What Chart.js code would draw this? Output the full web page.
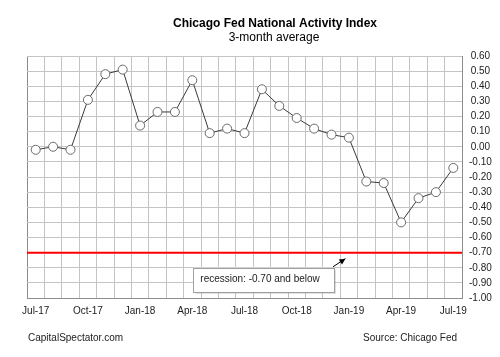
<!DOCTYPE html>
<html>
<head>
<meta charset="utf-8">
<script src="https://cdn.jsdelivr.net/npm/chart.js@4"></script>
<style>
  html, body { margin: 0; padding: 0; background: #fff; }
  #wrap { width: 500px; height: 357px; }
</style>
</head>
<body>
<div id="wrap"><canvas id="c" width="500" height="357"></canvas></div>
<script>
const months = ["Jul-17","Aug-17","Sep-17","Oct-17","Nov-17","Dec-17","Jan-18","Feb-18","Mar-18","Apr-18","May-18","Jun-18","Jul-18","Aug-18","Sep-18","Oct-18","Nov-18","Dec-18","Jan-19","Feb-19","Mar-19","Apr-19","May-19","Jun-19","Jul-19"];
const cfnai3m = [-0.02, 0.00, -0.02, 0.31, 0.48, 0.51, 0.14, 0.23, 0.23, 0.44, 0.09, 0.12, 0.09, 0.38, 0.27, 0.19, 0.12, 0.08, 0.06, -0.23, -0.24, -0.50, -0.34, -0.30, -0.14];
const recessionLevel = -0.70;
const yMin = -1.00, yMax = 0.60, yStep = 0.10;
const titleText = "Chicago Fed National Activity Index";
const subtitleText = "3-month average";
const noteText = "recession: -0.70 and below";
const leftFooter = "CapitalSpectator.com";
const rightFooter = "Source: Chicago Fed";

const FONT = "'Liberation Sans', Arial, sans-serif";

const extras = {
  id: 'extras',
  beforeDatasetsDraw(chart) {
    const ctx = chart.ctx, a = chart.chartArea, y = chart.scales.y;
    const py = y.getPixelForValue(recessionLevel);
    ctx.save();
    ctx.strokeStyle = '#ff0000';
    ctx.lineWidth = 2;
    ctx.beginPath();
    ctx.moveTo(a.left, py);
    ctx.lineTo(a.right, py);
    ctx.stroke();
    ctx.restore();
  },
  afterDraw(chart) {
    const ctx = chart.ctx, x = chart.scales.x, y = chart.scales.y;
    ctx.save();
    ctx.fillStyle = '#000';
    ctx.textAlign = 'center';
    ctx.textBaseline = 'middle';
    ctx.font = 'bold 12px ' + FONT;
    ctx.fillText(titleText, 275, 24);
    ctx.font = '12px ' + FONT;
    ctx.fillText(subtitleText, 274, 38);
    ctx.fillStyle = '#222';
    ctx.font = '10px ' + FONT;
    ctx.textAlign = 'left';
    ctx.fillText(leftFooter, 28, 338);
    ctx.textAlign = 'right';
    ctx.fillText(rightFooter, 457, 338);
    const bx0 = x.getPixelForValue(9) + 1;
    const bx1 = x.getPixelForValue(17) + 2.5;
    const by0 = y.getPixelForValue(-0.80);
    const by1 = y.getPixelForValue(-0.96);
    ctx.fillStyle = 'rgba(0,0,0,0.12)';
    ctx.fillRect(bx0 + 2, by0 + 2, bx1 - bx0, by1 - by0);
    ctx.fillStyle = '#fff';
    ctx.fillRect(bx0, by0, bx1 - bx0, by1 - by0);
    ctx.strokeStyle = '#a0a0a0';
    ctx.lineWidth = 1;
    ctx.strokeRect(Math.round(bx0) + 0.5, Math.round(by0) + 0.5, Math.round(bx1 - bx0), Math.round(by1 - by0));
    ctx.fillStyle = '#222';
    ctx.font = '10px ' + FONT;
    ctx.textAlign = 'left';
    ctx.textBaseline = 'middle';
    ctx.fillText(noteText, bx0 + 7, (by0 + by1) / 2 - 1);
    const ax0 = bx1 - 1, ay0 = by0 - 1;
    const ax1 = x.getPixelForValue(17.8), ay1 = y.getPixelForValue(-0.74);
    ctx.strokeStyle = '#000';
    ctx.lineWidth = 1;
    ctx.beginPath();
    ctx.moveTo(ax0, ay0);
    ctx.lineTo(ax1, ay1);
    ctx.stroke();
    const ang = Math.atan2(ay1 - ay0, ax1 - ax0);
    const L = 6, W = 3;
    ctx.fillStyle = '#000';
    ctx.beginPath();
    ctx.moveTo(ax1, ay1);
    ctx.lineTo(ax1 - L * Math.cos(ang) + W * Math.sin(ang), ay1 - L * Math.sin(ang) - W * Math.cos(ang));
    ctx.lineTo(ax1 - L * Math.cos(ang) - W * Math.sin(ang), ay1 - L * Math.sin(ang) + W * Math.cos(ang));
    ctx.closePath();
    ctx.fill();
    ctx.restore();
  }
};

new Chart(document.getElementById('c'), {
  type: 'line',
  data: {
    labels: months,
    datasets: [{
      data: cfnai3m,
      borderColor: '#3a3a3a',
      borderWidth: 1,
      pointRadius: 4.5,
      pointBackgroundColor: '#ffffff',
      pointBorderColor: '#6a6a6a',
      pointBorderWidth: 1,
      tension: 0,
      fill: false
    }]
  },
  options: {
    responsive: false,
    animation: false,
    devicePixelRatio: 1,
    layout: { padding: { left: 27, right: 0, top: 56, bottom: 0 } },
    plugins: { legend: { display: false }, title: { display: false }, tooltip: { enabled: false } },
    scales: {
      x: {
        type: 'category',
        offset: true,
        afterFit(s) { s.height = 59; },
        grid: {
          offset: true,
          drawTicks: false,
          color: (c) => c.index === 0 ? '#8c8c8c' : '#c4c4c4',
          lineWidth: 1
        },
        border: { color: '#8c8c8c', width: 1 },
        ticks: {
          autoSkip: false,
          maxRotation: 0,
          padding: 7,
          color: '#222',
          font: { family: FONT, size: 10 },
          callback(v, i) { return i % 3 === 0 ? months[i] : ''; }
        }
      },
      y: {
        position: 'right',
        min: yMin,
        max: yMax,
        afterFit(s) { s.width = 38; },
        grid: { drawTicks: false, color: '#c4c4c4', lineWidth: 1 },
        border: { color: '#8c8c8c', width: 1 },
        ticks: {
          stepSize: yStep,
          crossAlign: 'center',
          padding: 7,
          color: '#222',
          font: { family: FONT, size: 10 },
          callback(v) { return (Math.round(v * 100) / 100).toFixed(2); }
        }
      }
    }
  },
  plugins: [extras]
});
</script>
</body>
</html>
